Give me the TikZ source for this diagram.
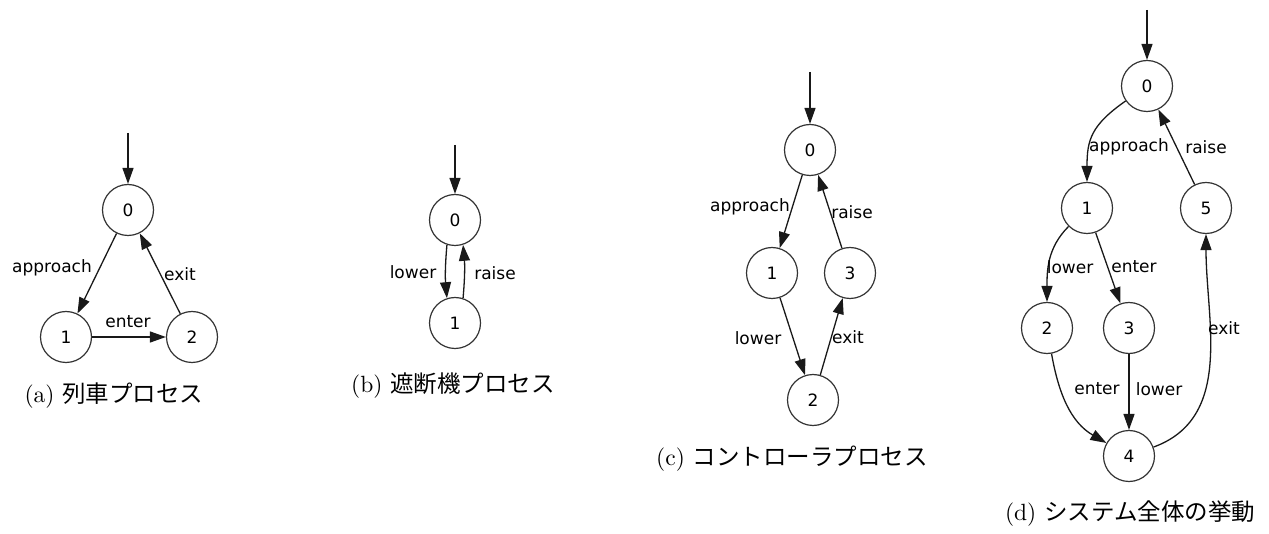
\documentclass[tikz,border=0pt]{standalone}
\usepackage{fontspec}
\setmainfont{lmroman10-regular.otf}
\newfontfamily\lblfont{DejaVu Sans}
\newfontfamily\cjk{Noto Sans CJK JP}
\usetikzlibrary{arrows.meta}
\begin{document}
\begin{tikzpicture}[x=1pt,y=1pt,
  st/.style={circle,draw=black!80,line width=1.2pt,minimum size=51pt,inner sep=0pt,font=\lblfont\fontsize{17}{20}\selectfont},
  edge/.style={draw=black!90,line width=1.3pt,-{Triangle[length=16pt,width=11pt]}},
  lb/.style={font=\lblfont\fontsize{17}{20}\selectfont,inner sep=0pt},
  captxt/.style={font=\fontsize{23.5}{27}\selectfont,inner sep=0pt}]
\useasboundingbox (0,0) rectangle (1269,-534);
% (a)
\node[st] (a0) at (128,-210) {0};
\node[st] (a1) at (66,-337) {1};
\node[st] (a2) at (192,-337) {2};
\coordinate (ai) at (128,-133);
\draw[edge] (ai) -- (a0);
\draw[edge] (a0) -- (a1);
\draw[edge] (a1) -- (a2);
\draw[edge] (a2) -- (a0);
\node[lb] (la01) at (52,-268) {approach};
\node[lb] (la12) at (128,-322) {enter};
\node[lb] (la20) at (180,-274) {exit};
\node[captxt] (capa) at (114,-396) {(a) {\cjk 列車プロセス}};
% (b)
\node[st] (b0) at (455,-220) {0};
\node[st] (b1) at (455,-323) {1};
\coordinate (bi) at (455,-145);
\draw[edge] (bi) -- (b0);
\draw[edge] (b0.252) to[bend right=5] (b1.108);
\draw[edge] (b1.72) to[bend right=5] (b0.288);
\node[lb] (lb01) at (413,-272) {lower};
\node[lb] (lb10) at (495,-273) {raise};
\node[captxt] (capb) at (453,-386) {(b) {\cjk 遮断機プロセス}};
% (c)
\node[st] (c0) at (810,-150) {0};
\node[st] (c1) at (772,-273) {1};
\node[st] (c3) at (850,-273) {3};
\node[st] (c2) at (813,-400) {2};
\coordinate (ci) at (810,-72);
\draw[edge] (ci) -- (c0);
\draw[edge] (c0) -- (c1);
\draw[edge] (c1) -- (c2);
\draw[edge] (c2) -- (c3);
\draw[edge] (c3) -- (c0);
\node[lb] (lc01) at (750,-207) {approach};
\node[lb] (lc30) at (852,-212) {raise};
\node[lb] (lc12) at (758,-338) {lower};
\node[lb] (lc23) at (848,-337) {exit};
\node[captxt] (capc) at (792,-459) {(c) {\cjk コントローラプロセス}};
% (d)
\node[st] (d0) at (1147,-86) {0};
\node[st] (d1) at (1087,-208) {1};
\node[st] (d5) at (1206,-208) {5};
\node[st] (d2) at (1047,-328) {2};
\node[st] (d3) at (1129,-328) {3};
\node[st] (d4) at (1129,-456) {4};
\coordinate (di) at (1147,-10);
\draw[edge] (di) -- (d0);
\draw[edge] (d0) to[out=215,in=90,looseness=1.2] (d1);
\draw[edge] (d5) -- (d0);
\draw[edge] (d1) to[out=225,in=90] (d2);
\draw[edge] (d1) -- (d3);
\draw[edge] (d2) to[out=-80,in=150] (d4);
\draw[edge] (d3) -- (d4);
\draw[edge] (d4) to[out=20,in=-90] (d5);
\node[lb] (ld01) at (1129,-147) {approach};
\node[lb] (ld50) at (1206,-147) {raise};
\node[lb] (ld12) at (1070,-267) {lower};
\node[lb] (ld13) at (1134,-267) {enter};
\node[lb] (ld45) at (1224,-328) {exit};
\node[lb] (ld24) at (1097,-389) {enter};
\node[lb] (ld34) at (1159,-389) {lower};
\node[captxt] (capd) at (1130,-514) {(d) {\cjk システム全体の挙動}};
\end{tikzpicture}
\end{document}
